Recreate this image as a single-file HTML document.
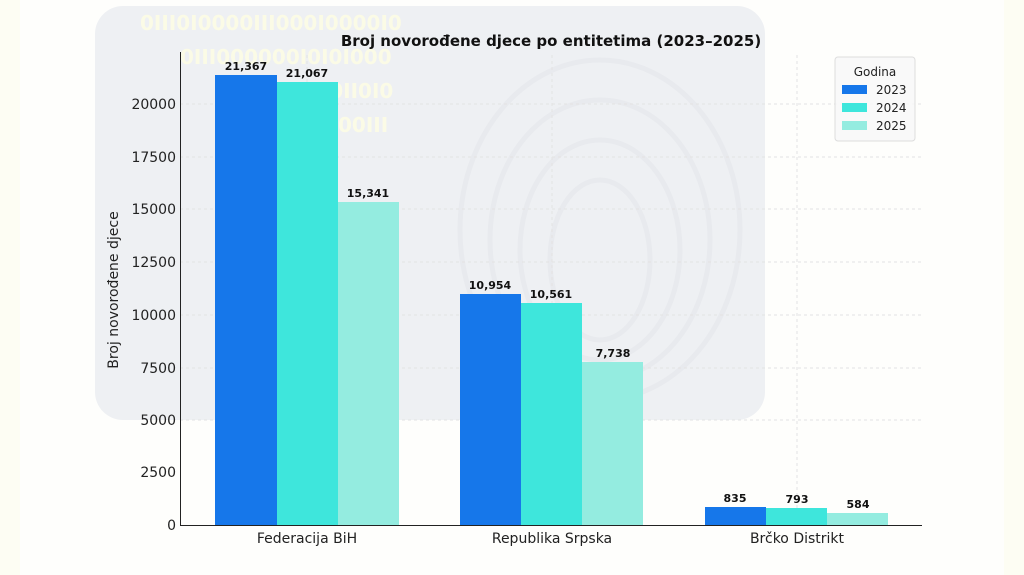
<!DOCTYPE html>
<html><head><meta charset="utf-8"><style>
html,body{margin:0;padding:0;background:#fff;width:1024px;height:575px;overflow:hidden;}
svg{display:block;font-family:"DejaVu Sans","Liberation Sans",sans-serif;overflow:hidden;}
</style></head><body>
<svg width="1024" height="575" viewBox="0 0 1024 575" xmlns="http://www.w3.org/2000/svg">
<rect width="1024" height="575" fill="#fefefc"/>
<rect x="0" y="0" width="20" height="575" fill="#fdfdf3"/>
<rect x="1004" y="0" width="20" height="575" fill="#fdfdf3"/>
<rect x="95" y="6" width="670" height="414" rx="28" fill="#eef0f3"/>
<g fill="#fbfbe6" font-size="20" font-weight="bold">
<text x="140" y="30">0III0I0000III000I0000I0</text>
<text x="180" y="64">0III000000I0I0I000</text>
<text x="215" y="98">0III0I0I00I0II0I0</text>
<text x="260" y="132">0III00000III</text>
</g>
<g fill="none" stroke="#e8eaee" stroke-width="5">
<ellipse cx="600" cy="230" rx="140" ry="170"/>
<ellipse cx="600" cy="240" rx="110" ry="140"/>
<ellipse cx="600" cy="250" rx="80" ry="110"/>
<ellipse cx="600" cy="260" rx="50" ry="80"/>
</g>
<g stroke="#e3e3e3" stroke-width="1" stroke-dasharray="3,3">
<line x1="180" y1="420" x2="922" y2="420"/><line x1="180" y1="368" x2="922" y2="368"/>
<line x1="180" y1="315" x2="922" y2="315"/><line x1="180" y1="262" x2="922" y2="262"/>
<line x1="180" y1="209" x2="922" y2="209"/><line x1="180" y1="157" x2="922" y2="157"/>
<line x1="180" y1="104" x2="922" y2="104"/>
<line x1="307" y1="55" x2="307" y2="525"/><line x1="552" y1="55" x2="552" y2="525"/><line x1="797" y1="55" x2="797" y2="525"/>
</g>
<g>
<rect x="215" y="75" width="62" height="450" fill="#1677ea"/>
<rect x="277" y="82" width="61" height="443" fill="#3ee6dc"/>
<rect x="338" y="202" width="61" height="323" fill="#94ece0"/>
<rect x="460" y="294" width="61" height="231" fill="#1677ea"/>
<rect x="521" y="303" width="61" height="222" fill="#3ee6dc"/>
<rect x="582" y="362" width="61" height="163" fill="#94ece0"/>
<rect x="705" y="507" width="61" height="18" fill="#1677ea"/>
<rect x="766" y="508" width="61" height="17" fill="#3ee6dc"/>
<rect x="827" y="513" width="61" height="12" fill="#94ece0"/>
</g>
<g font-size="11" font-weight="bold" fill="#111" text-anchor="middle">
<text x="246" y="70">21,367</text><text x="307" y="77">21,067</text><text x="368" y="197">15,341</text>
<text x="490" y="289">10,954</text><text x="551" y="298">10,561</text><text x="613" y="357">7,738</text>
<text x="735" y="502">835</text><text x="797" y="503">793</text><text x="858" y="508">584</text>
</g>
<line x1="180.5" y1="52" x2="180.5" y2="526" stroke="#222" stroke-width="1"/>
<line x1="180" y1="525.5" x2="922" y2="525.5" stroke="#222" stroke-width="1"/>
<g font-size="14" fill="#222" text-anchor="end">
<text x="176" y="530">0</text><text x="176" y="477">2500</text><text x="176" y="425">5000</text>
<text x="176" y="373">7500</text><text x="176" y="320">10000</text><text x="176" y="267">12500</text>
<text x="176" y="214">15000</text><text x="176" y="162">17500</text><text x="176" y="109">20000</text>
</g>
<g font-size="14" fill="#222" text-anchor="middle">
<text x="307" y="543">Federacija BiH</text><text x="552" y="543">Republika Srpska</text><text x="797" y="543">Brčko Distrikt</text>
</g>
<text transform="translate(118,290) rotate(-90)" font-size="14" fill="#222" text-anchor="middle">Broj novorođene djece</text>
<text x="551" y="46" font-size="15" font-weight="bold" fill="#111" text-anchor="middle">Broj novorođene djece po entitetima (2023–2025)</text>
<rect x="835" y="57" width="80" height="84" rx="3" fill="#f8f8f8" fill-opacity="0.85" stroke="#ddd"/>
<text x="875" y="76" font-size="12" fill="#222" text-anchor="middle">Godina</text>
<rect x="842" y="85" width="25" height="9" fill="#1677ea"/><text x="876" y="94" font-size="12" fill="#222">2023</text>
<rect x="842" y="103" width="25" height="9" fill="#3ee6dc"/><text x="876" y="112" font-size="12" fill="#222">2024</text>
<rect x="842" y="121" width="25" height="9" fill="#94ece0"/><text x="876" y="130" font-size="12" fill="#222">2025</text>
</svg>
</body></html>
